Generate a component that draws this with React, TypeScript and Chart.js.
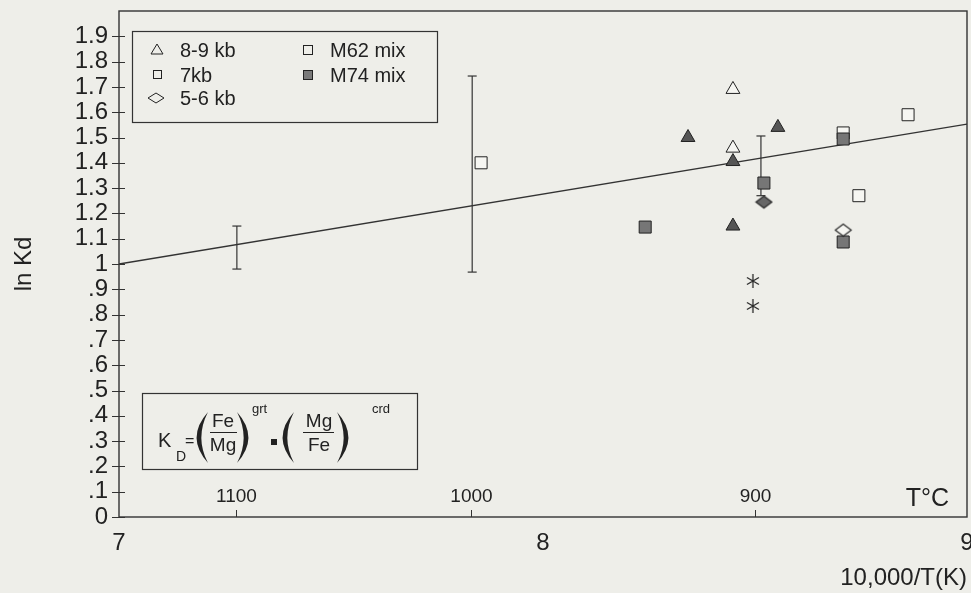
import React, { useEffect, useRef } from 'react';
import { Chart, registerables } from 'chart.js';

Chart.register(...registerables);

const FONT = '"Liberation Sans", Arial, Helvetica, sans-serif';
const INK = '#222222';
const BG = '#eeeee9';

// Axis ranges / ticks
const xMin = 7;
const xMax = 9;
const xTickValues = [7, 8, 9];
const yMin = 0;
const yMax = 2;
const yStep = 0.1;

// Temperature (°C) reference ticks on the bottom axis (positions in 10,000/T units)
const tempTickValues = [7.276, 7.83, 8.5];
const tempTickLabels = ['1100', '1000', '900'];
const tempUnitLabel = 'T°C';

// Data series (x = 10,000/T(K), y = ln Kd)
const openTriangles = [
  { x: 8.448, y: 1.69 },
  { x: 8.448, y: 1.458 },
];
const filledTriangles = [
  { x: 8.342, y: 1.5 },
  { x: 8.554, y: 1.54 },
  { x: 8.448, y: 1.405 },
  { x: 8.448, y: 1.15 },
];
const openSquares = [
  { x: 7.854, y: 1.4 },
  { x: 8.861, y: 1.59 },
  { x: 8.745, y: 1.27 },
  { x: 8.708, y: 1.518 },
];
const filledSquares = [
  { x: 8.241, y: 1.146 },
  { x: 8.521, y: 1.32 },
  { x: 8.708, y: 1.494 },
  { x: 8.708, y: 1.087 },
];
const openDiamonds = [{ x: 8.708, y: 1.134 }];
const filledDiamonds = [{ x: 8.521, y: 1.245 }];
const asterisks = [
  { x: 8.495, y: 0.933 },
  { x: 8.495, y: 0.834 },
];

// Error bars
const errorBarX = [7.278, 7.833, 8.514];
const errorBarLow = [0.98, 0.968, 1.27];
const errorBarHigh = [1.15, 1.743, 1.506];

// Regression line
const fitLineX = [7, 9];
const fitLineY = [1.0, 1.553];

// Legend text
const legendLeftLabels = ['8-9 kb', '7kb', '5-6 kb'];
const legendRightLabels = ['M62 mix', 'M74 mix'];

function yLabel(v: number): string {
  const r = Math.round(v * 10) / 10;
  if (r >= 2) return '';
  if (r === 0) return '0';
  if (r === 1) return '1';
  if (r < 1) return '.' + Math.round(r * 10);
  return r.toFixed(1);
}

function makeDiamond(fill: string): HTMLCanvasElement {
  const c = document.createElement('canvas');
  c.width = 19;
  c.height = 15;
  const g = c.getContext('2d')!;
  g.beginPath();
  g.moveTo(9.5, 1.5);
  g.lineTo(17.5, 7.5);
  g.lineTo(9.5, 13.5);
  g.lineTo(1.5, 7.5);
  g.closePath();
  g.fillStyle = fill;
  g.fill();
  g.strokeStyle = INK;
  g.lineWidth = 1.1;
  g.stroke();
  return c;
}

function makeAsterisk(): HTMLCanvasElement {
  const c = document.createElement('canvas');
  c.width = 16;
  c.height = 16;
  const g = c.getContext('2d')!;
  g.strokeStyle = '#2a2a2a';
  g.lineWidth = 1.3;
  g.beginPath();
  g.moveTo(8, 1);
  g.lineTo(8, 15);
  g.moveTo(2, 4.5);
  g.lineTo(14, 11.5);
  g.moveTo(2, 11.5);
  g.lineTo(14, 4.5);
  g.stroke();
  return c;
}

// crescent-shaped parenthesis
function paren(ctx: CanvasRenderingContext2D, x: number, top: number, h: number, w: number, t: number, open: boolean) {
  const bot = top + h;
  const mid = top + h / 2;
  ctx.beginPath();
  if (open) {
    ctx.moveTo(x + w, top);
    ctx.quadraticCurveTo(x - w * 0.9, mid, x + w, bot);
    ctx.lineTo(x + w - 0.5, bot - 1);
    ctx.quadraticCurveTo(x - w * 0.9 + 2 * t, mid, x + w - 0.5, top + 1);
  } else {
    ctx.moveTo(x, top);
    ctx.quadraticCurveTo(x + w * 1.9, mid, x, bot);
    ctx.lineTo(x + 0.5, bot - 1);
    ctx.quadraticCurveTo(x + w * 1.9 - 2 * t, mid, x + 0.5, top + 1);
  }
  ctx.closePath();
  ctx.fill();
}

const decoPlugin = {
  id: 'deco',
  beforeDraw(chart: any) {
    const { ctx, width, height } = chart;
    ctx.save();
    ctx.fillStyle = BG;
    ctx.fillRect(0, 0, width, height);
    ctx.restore();
  },
  afterDraw(chart: any) {
    const { ctx, chartArea } = chart;
    const xs = chart.scales.x;
    const ys = chart.scales.y;
    const { left, right, top, bottom } = chartArea;
    ctx.save();
    // frame
    ctx.strokeStyle = '#333';
    ctx.lineWidth = 1.4;
    ctx.strokeRect(left, top, right - left, bottom - top);
    // y ticks crossing the axis
    ctx.lineWidth = 1;
    ys.ticks.forEach((t: any) => {
      if (t.value >= yMax - 1e-6) return;
      const py = Math.round(ys.getPixelForValue(t.value)) + 0.5;
      ctx.beginPath();
      ctx.moveTo(left - 7, py);
      ctx.lineTo(left + 6, py);
      ctx.stroke();
    });
    // x tick labels (10,000/T)
    ctx.fillStyle = INK;
    ctx.font = `24px ${FONT}`;
    ctx.textAlign = 'center';
    ctx.textBaseline = 'middle';
    xTickValues.forEach((v) => {
      ctx.fillText(String(v), xs.getPixelForValue(v), bottom + 26);
    });
    // temperature ticks
    ctx.font = `19px ${FONT}`;
    ctx.textBaseline = 'alphabetic';
    tempTickValues.forEach((v, i) => {
      const px = Math.round(xs.getPixelForValue(v)) + 0.5;
      ctx.beginPath();
      ctx.moveTo(px, bottom);
      ctx.lineTo(px, bottom - 7);
      ctx.stroke();
      ctx.fillText(tempTickLabels[i], px, bottom - 15);
    });
    ctx.font = `25px ${FONT}`;
    ctx.textAlign = 'right';
    ctx.fillText(tempUnitLabel, right - 18, bottom - 11);

    // legend box
    const lx = 132, ly = 31, lw = 305, lh = 91;
    ctx.fillStyle = BG;
    ctx.fillRect(lx, ly, lw, lh);
    ctx.strokeStyle = '#333';
    ctx.lineWidth = 1.2;
    ctx.strokeRect(lx + 0.5, ly + 0.5, lw, lh);
    const rowY = [50, 75, 98];
    ctx.lineWidth = 1;
    ctx.strokeStyle = INK;
    ctx.beginPath();
    ctx.moveTo(157, rowY[0] - 6);
    ctx.lineTo(163, rowY[0] + 4);
    ctx.lineTo(151, rowY[0] + 4);
    ctx.closePath();
    ctx.stroke();
    ctx.strokeRect(153.5, rowY[1] - 4.5, 8, 8);
    ctx.beginPath();
    ctx.moveTo(156, rowY[2] - 5);
    ctx.lineTo(164, rowY[2]);
    ctx.lineTo(156, rowY[2] + 5);
    ctx.lineTo(148, rowY[2]);
    ctx.closePath();
    ctx.stroke();
    ctx.strokeRect(303.5, rowY[0] - 4.5, 9, 9);
    ctx.fillStyle = '#7a7a7a';
    ctx.fillRect(303.5, rowY[1] - 4.5, 9, 9);
    ctx.strokeRect(303.5, rowY[1] - 4.5, 9, 9);
    ctx.fillStyle = INK;
    ctx.font = `20px ${FONT}`;
    ctx.textAlign = 'left';
    ctx.textBaseline = 'middle';
    legendLeftLabels.forEach((s, i) => ctx.fillText(s, 180, rowY[i] + 1));
    legendRightLabels.forEach((s, i) => ctx.fillText(s, 330, rowY[i] + 1));

    // formula box
    const fx = 142, fy = 393, fw = 275, fh = 76;
    ctx.fillStyle = BG;
    ctx.fillRect(fx, fy, fw, fh);
    ctx.strokeStyle = '#333';
    ctx.lineWidth = 1.2;
    ctx.strokeRect(fx + 0.5, fy + 0.5, fw, fh);
    ctx.fillStyle = INK;
    ctx.textBaseline = 'alphabetic';
    ctx.textAlign = 'left';
    ctx.font = `20px ${FONT}`;
    ctx.fillText('K', 158, 447);
    ctx.font = `14px ${FONT}`;
    ctx.fillText('D', 176, 461);
    ctx.font = `16px ${FONT}`;
    ctx.fillText('=', 185, 446);
    paren(ctx, 196, 412, 51, 12, 5, true);
    paren(ctx, 237, 412, 51, 12, 5, false);
    paren(ctx, 282, 412, 51, 12, 5, true);
    paren(ctx, 337, 412, 51, 12, 5, false);
    ctx.font = `19px ${FONT}`;
    ctx.textAlign = 'center';
    ctx.fillText('Fe', 223, 427);
    ctx.fillText('Mg', 223, 451);
    ctx.fillText('Mg', 319, 427);
    ctx.fillText('Fe', 319, 451);
    ctx.lineWidth = 1;
    ctx.strokeStyle = INK;
    ctx.beginPath();
    ctx.moveTo(210, 432.5);
    ctx.lineTo(237, 432.5);
    ctx.moveTo(303, 432.5);
    ctx.lineTo(334, 432.5);
    ctx.stroke();
    ctx.fillRect(271, 439, 6, 6);
    ctx.font = `13px ${FONT}`;
    ctx.textAlign = 'left';
    ctx.fillText('grt', 252, 413);
    ctx.fillText('crd', 372, 413);
    ctx.restore();
  },
};

export default function App() {
  const ref = useRef<HTMLCanvasElement>(null);
  useEffect(() => {
    document.body.style.margin = '0';
    const canvas = ref.current!;
    const openDiamond = makeDiamond('#f6f6f2');
    const filledDiamond = makeDiamond('#666666');
    const asterisk = makeAsterisk();

    const errorBarSets = errorBarX.map((x, i) => ({
      label: 'err' + i,
      data: [
        { x, y: errorBarLow[i] },
        { x, y: errorBarHigh[i] },
      ],
      showLine: true,
      borderColor: '#333',
      borderWidth: 1.2,
      pointStyle: 'line',
      pointRadius: 4.5,
      pointBorderColor: '#333',
      pointBorderWidth: 1.2,
      order: 9,
    }));

    const chart = new Chart(canvas, {
      type: 'scatter',
      data: {
        datasets: [
          {
            label: 'fit',
            data: fitLineX.map((x, i) => ({ x, y: fitLineY[i] })),
            showLine: true,
            borderColor: '#333',
            borderWidth: 1.3,
            pointRadius: 0,
            order: 10,
          },
          ...errorBarSets,
          {
            label: 'M62 7kb',
            data: openSquares,
            pointStyle: 'rect',
            pointRadius: 8.5,
            backgroundColor: '#f6f6f2',
            borderColor: INK,
            borderWidth: 1,
            order: 6,
          },
          {
            label: 'M74 7kb',
            data: filledSquares,
            pointStyle: 'rect',
            pointRadius: 8.5,
            backgroundColor: '#767676',
            borderColor: INK,
            borderWidth: 1,
            order: 5,
          },
          {
            label: 'M62 8-9kb',
            data: openTriangles,
            pointStyle: 'triangle',
            pointRadius: 8,
            backgroundColor: '#f6f6f2',
            borderColor: INK,
            borderWidth: 1,
            order: 4,
          },
          {
            label: 'M74 8-9kb',
            data: filledTriangles,
            pointStyle: 'triangle',
            pointRadius: 8,
            backgroundColor: '#555555',
            borderColor: INK,
            borderWidth: 1,
            order: 3,
          },
          {
            label: 'M62 5-6kb',
            data: openDiamonds,
            pointStyle: openDiamond,
            pointRadius: 8,
            order: 2,
          },
          {
            label: 'M74 5-6kb',
            data: filledDiamonds,
            pointStyle: filledDiamond,
            pointRadius: 8,
            order: 2,
          },
          {
            label: 'other',
            data: asterisks,
            pointStyle: asterisk,
            pointRadius: 8,
            order: 1,
          },
        ] as any,
      },
      options: {
        animation: false,
        responsive: false,
        layout: { autoPadding: false, padding: { left: 0, right: 4, top: 11, bottom: 0 } },
        plugins: {
          legend: { display: false },
          tooltip: { enabled: false },
        },
        scales: {
          x: {
            type: 'linear',
            min: xMin,
            max: xMax,
            grid: { display: false },
            border: { display: false },
            afterBuildTicks: (s: any) => {
              s.ticks = xTickValues.map((v) => ({ value: v }));
            },
            afterFit: (s: any) => {
              s.height = 76;
              s.paddingLeft = 0;
              s.paddingRight = 0;
            },
            ticks: { display: false },
            title: {
              display: true,
              text: '10,000/T(K)',
              align: 'end',
              color: INK,
              font: { family: FONT, size: 24 },
              padding: { top: 0, bottom: 0 },
            },
          },
          y: {
            type: 'linear',
            min: yMin,
            max: yMax,
            grid: { display: false },
            border: { display: false },
            afterFit: (s: any) => {
              s.width = 119;
              s.paddingTop = 0;
              s.paddingBottom = 0;
            },
            ticks: {
              stepSize: yStep,
              padding: 3,
              color: INK,
              autoSkip: false,
              font: { family: FONT, size: 24 },
              callback: (v: any) => yLabel(Number(v)),
            },
            title: {
              display: true,
              text: 'ln Kd',
              color: INK,
              font: { family: FONT, size: 24 },
              padding: { top: 10, bottom: 0 },
            },
          },
        },
      } as any,
      plugins: [decoPlugin],
    });
    return () => chart.destroy();
  }, []);
  return (
    <canvas
      ref={ref}
      width={971}
      height={593}
      style={{ display: 'block', width: 971, height: 593 }}
    />
  );
}
